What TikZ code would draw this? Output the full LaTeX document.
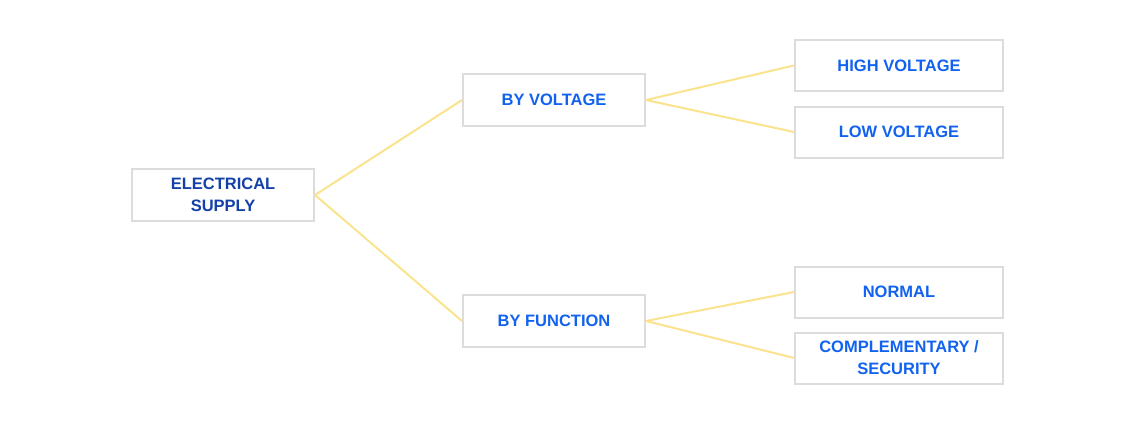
\documentclass[tikz,border=0pt]{standalone}
\usepackage{fontspec}
\setmainfont{Liberation Sans}
\usepackage{tikz}
\usetikzlibrary{positioning}

\definecolor{boxgray}{HTML}{DCDCDC}
\definecolor{linkyellow}{HTML}{FAE38C}
\definecolor{rootblue}{HTML}{1441A8}
\definecolor{leafblue}{HTML}{1162F0}

\begin{document}
\begin{tikzpicture}[x=1pt,y=-1pt,thick]
  \tikzstyle{every node}=[font=\bfseries\fontsize{16.5}{22}\selectfont]
  \tikzstyle{branch}=[draw=boxgray,line width=2pt,fill=white,text=leafblue,
                      minimum width=182pt,minimum height=52pt,align=center,inner sep=0pt]
  \tikzstyle{leaf}=[branch,minimum width=208pt,minimum height=51pt]
  \tikzstyle{link}=[draw=linkyellow,line width=2pt]

  \useasboundingbox (0,0) rectangle (1147,440);

  \node[branch,text=rootblue] (supply)   at (223,195)   {ELECTRICAL\\SUPPLY};
  \node[branch]               (voltage)  at (554,100)   {BY VOLTAGE};
  \node[branch]               (function) at (554,321)   {BY FUNCTION};
  \node[leaf]                 (high)     at (899,65.5)  {HIGH VOLTAGE};
  \node[leaf]                 (low)      at (899,132)   {LOW VOLTAGE};
  \node[leaf]                 (normal)   at (899,292)   {NORMAL};
  \node[leaf]                 (security) at (899,358)   {COMPLEMENTARY /\\SECURITY};

  % connectors
  \path[link] (supply.east)   edge (voltage.west)
                              edge (function.west)
              (voltage.east)  edge (high.west)
                              edge (low.west)
              (function.east) edge (normal.west)
                              edge (security.west);
\end{tikzpicture}
\end{document}
